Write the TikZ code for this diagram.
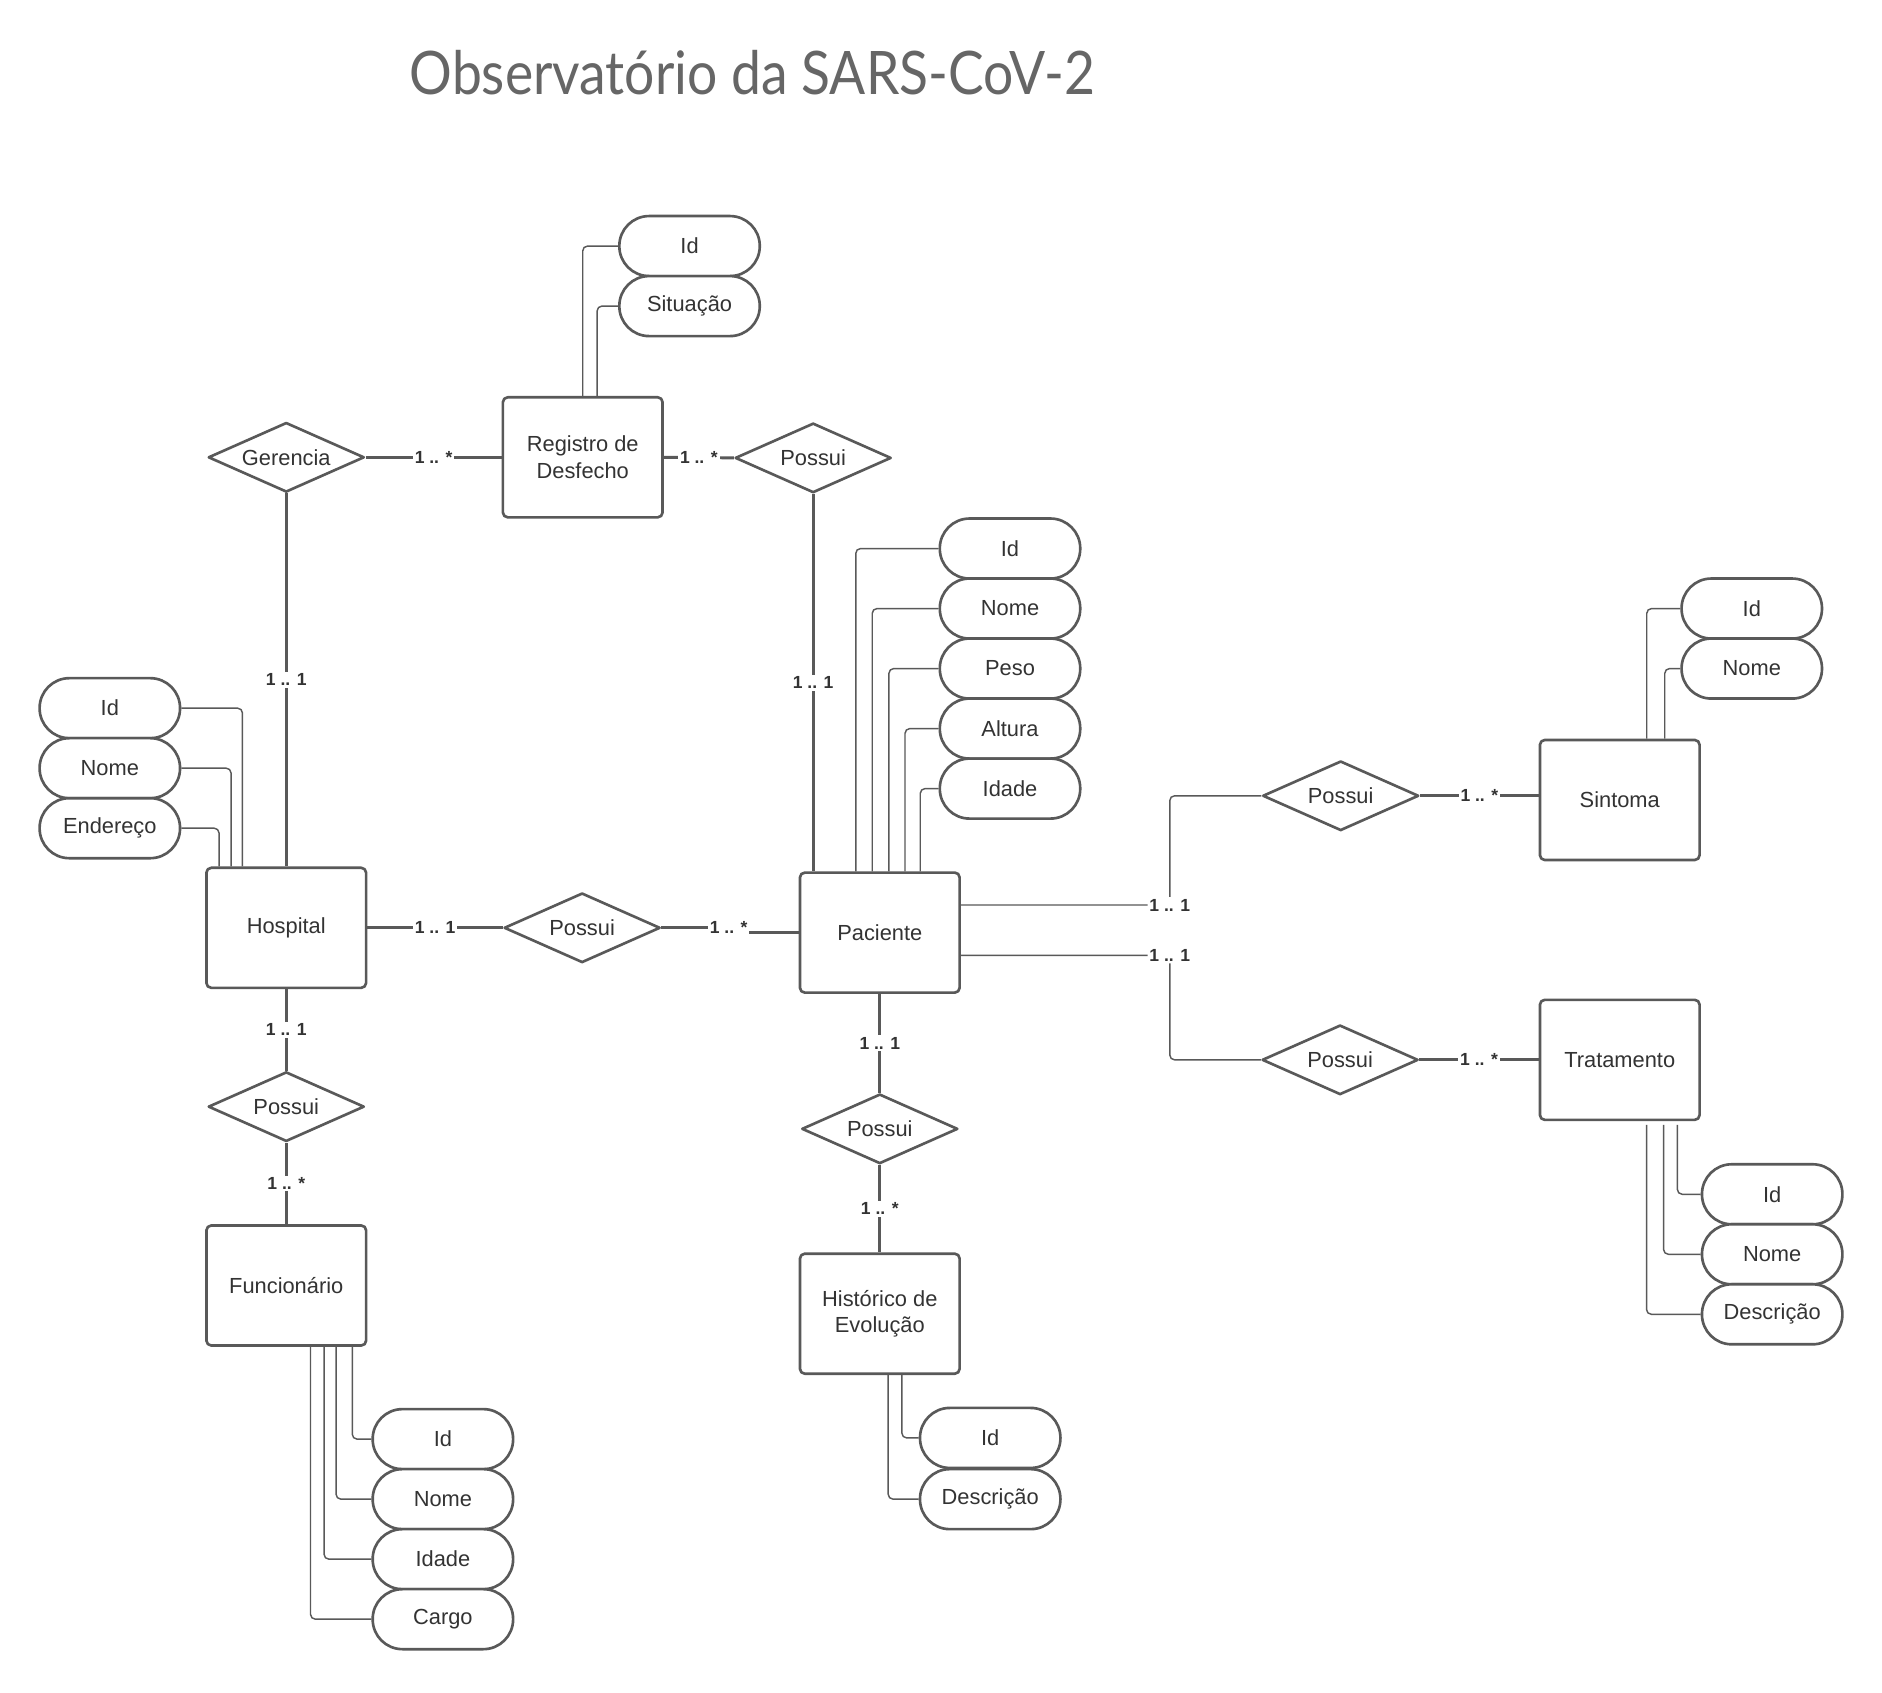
\documentclass[tikz,border=0pt]{standalone}
\usepackage{fontspec}
\setmainfont{Liberation Sans}
\newfontfamily\titlefont{Lato}
\usetikzlibrary{shapes.geometric}
\definecolor{linegray}{HTML}{595959}
\definecolor{textgray}{HTML}{333333}
\definecolor{titlegray}{HTML}{666666}

\begin{document}
\begin{tikzpicture}[x=0.5pt, y=-0.5pt, line join=round,
  entity/.style={draw=linegray, fill=white, line width=1.1pt, rounded corners=2pt, minimum width=66.5pt, minimum height=50pt, align=center, text=textgray, font=\fontsize{9.1}{11}\selectfont},
  relation/.style={draw=linegray, fill=white, diamond, aspect=2.24, line width=1.1pt, minimum width=65pt, minimum height=29pt, inner sep=0pt, text=textgray, font=\fontsize{9.1}{11}\selectfont},
  attrib/.style={draw=linegray, fill=white, line width=1.1pt, rounded corners=12.4pt, minimum width=58.5pt, minimum height=25pt, text=textgray, font=\fontsize{9.1}{11}\selectfont},
  rel/.style={draw=linegray, line width=1.2pt},
  attr/.style={draw=linegray, line width=0.6pt, rounded corners=2pt},
  card/.style={fill=white, inner sep=0.8pt, text=textgray, font=\bfseries\fontsize{7.3}{8}\selectfont}]

\fill[white] (0,0) rectangle (1568,1410);
\useasboundingbox (0,0) rectangle (1568,1410);

\node[font=\titlefont\fontsize{25}{30}\selectfont, text=titlegray, anchor=base west, inner sep=0pt, xscale=0.89] (title) at (341,79) {Observatório da SARS-CoV-2};

\node[entity] (rd) at (485.5,381) {Registro de\\Desfecho};
\node[entity] (hos) at (238.5,773) {Hospital};
\node[entity] (pac) at (733,777) {Paciente};
\node[entity] (sin) at (1349.5,666.5) {Sintoma};
\node[entity] (tra) at (1349.5,883) {Tratamento};
\node[entity] (fun) at (238.5,1071) {Funcionário};
\node[entity] (his) at (733,1094.5) {Histórico de\\Evolução};

\node[relation] (ger) at (238.5,381) {Gerencia};
\node[relation] (rdPos) at (677.5,381.5) {Possui};
\node[relation] (hosPos) at (485,773) {Possui};
\node[relation] (sinPos) at (1117,663) {Possui};
\node[relation] (traPos) at (1116.5,883) {Possui};
\node[relation] (funPos) at (238.5,922) {Possui};
\node[relation] (hisPos) at (733,940.5) {Possui};

\node[attrib] (rdId) at (574.5,205) {Id};
\node[attrib] (rdSit) at (574.5,255) {Situação};
\node[attrib] (hosId) at (91.5,590) {Id};
\node[attrib] (hosNome) at (91.5,640) {Nome};
\node[attrib] (hosEnd) at (91.5,690) {Endereço};
\node[attrib] (pacId) at (841.5,457) {Id};
\node[attrib] (pacNome) at (841.5,507) {Nome};
\node[attrib] (pacPeso) at (841.5,557) {Peso};
\node[attrib] (pacAlt) at (841.5,607) {Altura};
\node[attrib] (pacIdade) at (841.5,657) {Idade};
\node[attrib] (sinId) at (1459.5,507) {Id};
\node[attrib] (sinNome) at (1459.5,557) {Nome};
\node[attrib] (traId) at (1476.5,995) {Id};
\node[attrib] (traNome) at (1476.5,1045) {Nome};
\node[attrib] (traDesc) at (1476.5,1095) {Descrição};
\node[attrib] (funId) at (369,1199) {Id};
\node[attrib] (funNome) at (369,1249) {Nome};
\node[attrib] (funIdade) at (369,1299) {Idade};
\node[attrib] (funCargo) at (369,1349) {Cargo};
\node[attrib] (hisId) at (825,1198) {Id};
\node[attrib] (hisDesc) at (825,1249) {Descrição};

\draw[attr] (rdId.west) -| (rd.north);
\draw[attr] (rdSit.west) -| ([xshift=6pt]rd.north);
\draw[attr] (hosId.east) -| ([xshift=-18.25pt]hos.north);
\draw[attr] (hosNome.east) -| ([xshift=-23pt]hos.north);
\draw[attr] (hosEnd.east) -| ([xshift=-28pt]hos.north);
\draw[attr] (pacId.west) -| ([xshift=-10pt]pac.north);
\draw[attr] (pacNome.west) -| ([xshift=-3.15pt]pac.north);
\draw[attr] (pacPeso.west) -| ([xshift=3.8pt]pac.north);
\draw[attr] (pacAlt.west) -| ([xshift=10.5pt]pac.north);
\draw[attr] (pacIdade.west) -| ([xshift=16.85pt]pac.north);
\draw[attr] (sinId.west) -| ([xshift=11.25pt]sin.north);
\draw[attr] (sinNome.west) -| ([xshift=18.75pt]sin.north);
\draw[attr] ([xshift=24pt,yshift=-1.5pt]tra.south) |- (traId.west);
\draw[attr] ([xshift=18.25pt,yshift=-1.5pt]tra.south) |- (traNome.west);
\draw[attr] ([xshift=11.15pt,yshift=-1.5pt]tra.south) |- (traDesc.west);
\draw[attr] ([xshift=27.5pt]fun.south) |- (funId.west);
\draw[attr] ([xshift=20.75pt]fun.south) |- (funNome.west);
\draw[attr] ([xshift=15.75pt]fun.south) |- (funIdade.west);
\draw[attr] ([xshift=10.1pt]fun.south) |- (funCargo.west);
\draw[attr] ([xshift=9.2pt]his.south) |- (hisId.west);
\draw[attr] ([xshift=3.5pt]his.south) |- (hisDesc.west);

\draw[rel] (ger.east) -- node[card]{1 .. *} (rd.west);
\draw[rel] (rd.east) -- node[card]{1 .. *} (rdPos.west);
\draw[rel] (ger.south) -- node[card]{1 .. 1} (hos.north);
\draw[rel] (rdPos.south) -- node[card]{1 .. 1} (rdPos.south |- pac.north);
\draw[rel] (hos.east) -- node[card]{1 .. 1} (hosPos.west);
\draw[rel] (hosPos.east) -- ++(28pt,0) node[card]{1 .. *} |- (pac.west);
\draw[rel] (hos.south) -- node[card]{1 .. 1} (funPos.north);
\draw[rel] (funPos.south) -- node[card]{1 .. *} (fun.north);
\draw[rel] (pac.south) -- node[card]{1 .. 1} (hisPos.north);
\draw[rel] (hisPos.south) -- node[card]{1 .. *} (his.north);
\draw[attr] ([yshift=11.5pt]pac.east) -- ++(87pt,0) node[card]{1 .. 1} |- (sinPos.west);
\draw[attr] ([yshift=-9.5pt]pac.east) -- ++(87pt,0) node[card]{1 .. 1} |- (traPos.west);
\draw[rel] (sinPos.east) -- node[card]{1 .. *} (sinPos.east -| sin.west);
\draw[rel] (traPos.east) -- node[card]{1 .. *} (tra.west);

\end{tikzpicture}
\end{document}
